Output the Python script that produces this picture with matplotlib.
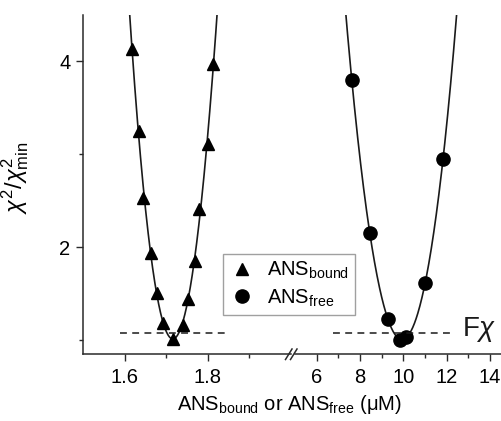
import numpy as np
import matplotlib
matplotlib.use("Agg")
import matplotlib.pyplot as plt
from matplotlib.lines import Line2D

plt.rcParams['font.family'] = ['Liberation Sans', 'DejaVu Sans']
plt.rcParams['mathtext.fontset'] = 'custom'
plt.rcParams['mathtext.rm'] = 'Liberation Sans'
plt.rcParams['mathtext.it'] = 'Liberation Sans:italic'
plt.rcParams['mathtext.bf'] = 'Liberation Sans:bold'

# Data
bound_x = [1.618, 1.635, 1.645, 1.664, 1.678, 1.693, 1.717, 1.740, 1.752, 1.771, 1.780, 1.800, 1.814]
bound_y = [4.13, 3.25, 2.53, 1.94, 1.51, 1.18, 1.01, 1.16, 1.44, 1.85, 2.41, 3.11, 3.97]
free_x = [7.62, 8.45, 9.29, 9.84, 10.13, 11.00, 11.83]
free_y = [3.80, 2.15, 1.23, 1.00, 1.03, 1.61, 2.95]
f_chi = 1.075
bound_dash = [1.59, 1.848]
free_dash = [6.74, 12.35]
left_xlim = (1.5, 2.0)
right_xlim = (5.0, 14.55)
ylim = (0.85, 4.5)
left_major = [1.6, 1.8]
left_minor = [1.7, 1.9]
right_major = [6, 8, 10, 12, 14]
right_minor = [7, 9, 11, 13]
y_major = [2, 4]
y_minor = [1, 3]

W, H = 502, 421
fig = plt.figure(figsize=(W / 100, H / 100), dpi=100)

def fx(px):
    return px / W

def fy(py):
    return 1 - py / H

ax_l = fig.add_axes([fx(83), fy(354), fx(290.5) - fx(83), fy(15) - fy(354)])
ax_r = fig.add_axes([fx(295), fy(354), fx(502) - fx(295), fy(15) - fy(354)])

spine_c = '#2a2a2a'
tick_fs = 14.5
for ax in (ax_l, ax_r):
    ax.set_ylim(*ylim)
    ax.spines['top'].set_visible(False)
    ax.spines['right'].set_visible(False)
    ax.spines['bottom'].set_color(spine_c)
    ax.spines['bottom'].set_linewidth(1.1)
    ax.tick_params(axis='x', which='major', direction='out', length=5, width=1.0,
                   color=spine_c, labelsize=tick_fs, pad=5)
    ax.tick_params(axis='x', which='minor', direction='out', length=3, width=1.0, color=spine_c)
    ax.patch.set_alpha(0)

ax_l.spines['left'].set_color(spine_c)
ax_l.spines['left'].set_linewidth(1.1)
ax_r.spines['left'].set_visible(False)
ax_r.tick_params(axis='y', which='both', left=False, labelleft=False)
ax_l.tick_params(axis='y', which='major', direction='out', length=5, width=1.0,
                 color=spine_c, labelsize=tick_fs, pad=4)
ax_l.tick_params(axis='y', which='minor', direction='out', length=3, width=1.0, color=spine_c)

ax_l.set_xlim(*left_xlim)
ax_r.set_xlim(*right_xlim)
ax_l.set_xticks(left_major)
ax_l.set_xticks(left_minor, minor=True)
ax_l.set_xticklabels([f"{v:.1f}" for v in left_major])
ax_r.set_xticks(right_major)
ax_r.set_xticks(right_minor, minor=True)
ax_l.set_yticks(y_major)
ax_l.set_yticks(y_minor, minor=True)

# fitted curves
cb = np.polyfit(bound_x, bound_y, 4)
xb = np.linspace(1.60, 1.83, 300)
ax_l.plot(xb, np.polyval(cb, xb), color='#1a1a1a', lw=1.2, clip_on=True)
ax_l.plot(bound_x, bound_y, linestyle='none', marker='^', ms=8.5, color='black')

cf = np.polyfit(free_x, free_y, 4)
xf = np.linspace(7.0, 12.8, 300)
ax_r.plot(xf, np.polyval(cf, xf), color='#1a1a1a', lw=1.2)
ax_r.plot(free_x, free_y, linestyle='none', marker='o', ms=9.5, color='black')

# F-chi threshold
ax_l.plot(bound_dash, [f_chi, f_chi], color='#1a1a1a', lw=1.1, dashes=(4.5, 3.5))
ax_r.plot(free_dash, [f_chi, f_chi], color='#1a1a1a', lw=1.1, dashes=(4.5, 3.5))
ax_r.text(12.7, f_chi + 0.04, r'F$\chi$', fontsize=20, va='center', ha='left', color='#1a1a1a')

# break marks
for x0 in (285.5, 290.5):
    fig.add_artist(Line2D([fx(x0), fx(x0 + 6.5)], [fy(359.5), fy(349)],
                          transform=fig.transFigure, color=spine_c, lw=1.1))

ax_l.set_ylabel(r'$\chi^2/\chi^2_{\rm min}$', fontsize=17)
ax_l.yaxis.set_label_coords(-0.25, 0.52)
fig.text(fx(289), fy(405), r'ANS$_{\rm bound}$ or ANS$_{\rm free}$ (μM)',
         fontsize=14.5, ha='center', va='center')

handles = [Line2D([], [], linestyle='none', marker='^', ms=8.5, color='black'),
           Line2D([], [], linestyle='none', marker='o', ms=9.5, color='black')]
leg = fig.legend(handles, [r'ANS$_{\rm bound}$', r'ANS$_{\rm free}$'],
                 loc='upper left', bbox_to_anchor=(fx(223), fy(254)),
                 bbox_transform=fig.transFigure, borderaxespad=0, fancybox=False,
                 frameon=True, fontsize=14.5, handlelength=1.3, handletextpad=0.6,
                 borderpad=0.3, labelspacing=0.3)
leg.get_frame().set_edgecolor('#888888')
leg.get_frame().set_linewidth(1.0)

fig.savefig('out.png', dpi=100)
